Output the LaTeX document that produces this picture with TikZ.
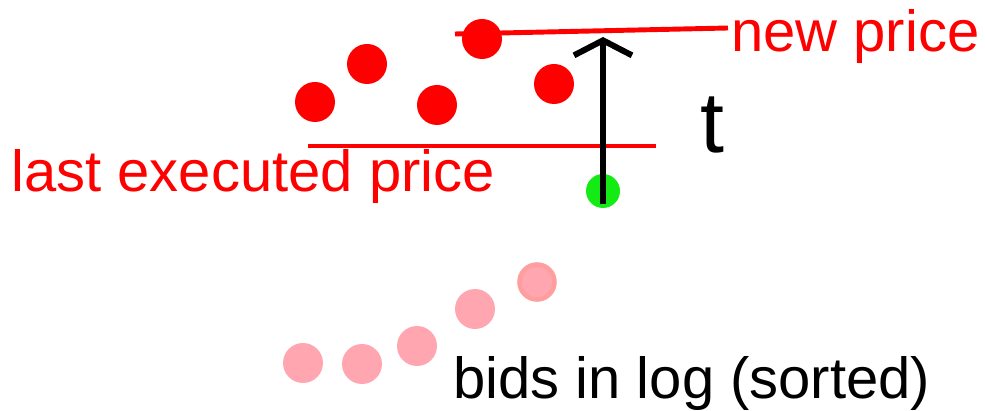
\documentclass[tikz,border=0pt]{standalone}
\usepackage{fontspec}
\setmainfont{Liberation Sans}
\usetikzlibrary{arrows.meta}

\definecolor{bidpink}{RGB}{255,166,176}
\definecolor{bidring}{RGB}{255,158,158}
\definecolor{newgreen}{RGB}{20,235,20}

\tikzset{
  ask/.style={circle, fill=red, minimum size=0.8cm, inner sep=0pt},
  bid/.style={circle, fill=bidpink, minimum size=0.8cm, inner sep=0pt},
  priceline/.style={red, line width=2.8pt},
  biglabel/.style={anchor=base west, inner sep=0pt, font=\fontsize{33}{40}\selectfont}
}

\begin{document}
\begin{tikzpicture}[x=0.02cm, y=-0.02cm]
\useasboundingbox (0,0) rectangle (985,411);

% Price lines
\coordinate (newL) at (455,34);
\coordinate (newR) at (728,28);
\coordinate (lastL) at (308,146);
\coordinate (lastR) at (656,146);
\draw[priceline] (newL) -- (newR);
\draw[priceline] (lastL) -- (lastR);

% Asks
\node[ask] (a1) at (315,102) {};
\node[ask] (a2) at (367,64) {};
\node[ask] (a3) at (482,39) {};
\node[ask] (a4) at (437,105) {};
\node[ask] (a5) at (554,84) {};

% Bids in log
\node[bid] (b1) at (303,363) {};
\node[bid] (b2) at (362,364) {};
\node[bid] (b3) at (417,346) {};
\node[bid] (b4) at (475,309) {};
\node[bid, draw=bidring, line width=2.6pt, minimum size=0.7cm] (b5) at (537,282) {};

% Incoming order and its jump
\node[circle, fill=newgreen, minimum size=0.68cm, inner sep=0pt] (new) at (603,191) {};
\coordinate (tip) at (603,37);
\draw[line width=3.4pt, shorten <=0.08cm,
  -{Straight Barb[length=0.3cm, width=1.16cm]}] (new.south) -- (tip);

% Labels
\node[biglabel, text=red] (newlab) at (731,52) {new price};
\node[biglabel, text=red] (lastlab) at (11,192) {last executed price};
\node[biglabel] (bidlab) at (453,399) {bids in log (sorted)};
\node[biglabel, font=\fontsize{49}{58}\selectfont] (tlab) at (700,153) {t};
\end{tikzpicture}
\end{document}
